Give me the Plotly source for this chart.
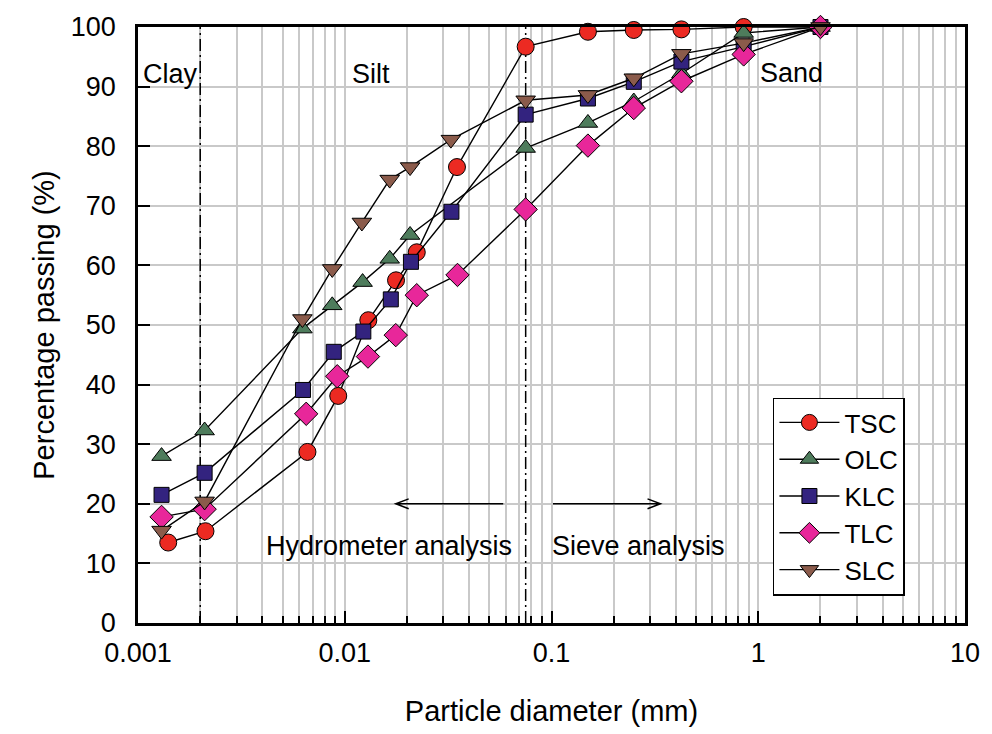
import math
import plotly.graph_objects as go

# ---- data ----
TSC_x = [0.0014, 0.00212, 0.0066, 0.0093, 0.0130, 0.0177, 0.0223, 0.0349, 0.075, 0.15, 0.25, 0.425, 0.85, 2.0]
TSC_y = [13.5, 15.4, 28.7, 38.1, 50.8, 57.5, 62.2, 76.5, 96.7, 99.2, 99.5, 99.6, 100, 100]

OLC_x = [0.0013, 0.0021, 0.00624, 0.0087, 0.0122, 0.0165, 0.0207, 0.075, 0.15, 0.25, 0.425, 0.85, 2.0]
OLC_y = [28.0, 32.3, 49.4, 53.3, 57.2, 61.1, 65.1, 79.7, 83.9, 87.5, 92.2, 99.0, 100]

KLC_x = [0.0013, 0.0021, 0.00628, 0.00885, 0.0123, 0.0167, 0.0209, 0.0328, 0.075, 0.15, 0.25, 0.425, 0.85, 2.0]
KLC_y = [21.5, 25.2, 39.1, 45.5, 48.9, 54.3, 60.6, 69.0, 85.3, 88.0, 90.8, 94.2, 96.7, 100]

TLC_x = [0.0013, 0.0021, 0.00651, 0.0092, 0.01295, 0.01765, 0.0223, 0.0351, 0.075, 0.15, 0.25, 0.425, 0.85, 2.0]
TLC_y = [17.8, 19.1, 35.1, 41.4, 44.7, 48.3, 55.0, 58.4, 69.4, 80.1, 86.4, 90.9, 95.4, 100]

SLC_x = [0.0013, 0.0021, 0.00624, 0.0087, 0.0121, 0.0165, 0.0207, 0.0326, 0.075, 0.15, 0.25, 0.425, 0.85, 2.0]
SLC_y = [15.5, 20.4, 51.0, 59.4, 67.2, 74.4, 76.5, 81.1, 87.7, 88.6, 91.4, 95.5, 97.3, 100]

BOUNDARIES = [0.002, 0.075]          # clay/silt and hydrometer/sieve limits (mm)
X_TICKS = [0.001, 0.01, 0.1, 1, 10]
X_TICK_TEXT = ["0.001", "0.01", "0.1", "1", "10"]
Y_TICKS = [0, 10, 20, 30, 40, 50, 60, 70, 80, 90, 100]

FONT = "Arial, Liberation Sans, sans-serif"

series = [
    ("TSC", TSC_x, TSC_y, "circle", "#ec2a22", 17),
    ("OLC", OLC_x, OLC_y, "triangle-up", "#4e7c5c", 17),
    ("KLC", KLC_x, KLC_y, "square", "#33237f", 15),
    ("TLC", TLC_x, TLC_y, "diamond", "#e8279a", 18),
    ("SLC", SLC_x, SLC_y, "triangle-down", "#8b5b4b", 17),
]

fig = go.Figure()

for b in BOUNDARIES:
    fig.add_trace(go.Scatter(x=[b, b], y=[0, 100], mode="lines",
                             line=dict(color="black", width=1.5, dash="12px,4px,2px,4px"),
                             showlegend=False, hoverinfo="skip", cliponaxis=True))

for name, xs, ys, sym, col, sz in series:
    fig.add_trace(go.Scatter(
        x=xs, y=ys, name=name, mode="lines+markers", legendgroup=name,
        line=dict(color="black", width=1.4),
        marker=dict(symbol=sym, size=sz, color=col, line=dict(color="black", width=1)),
        cliponaxis=False,
    ))

# plot-area geometry in pixels (for paper coordinate conversion of annotations)
L, R, T, B = 138, 969, 23, 623
def px(x):
    return (x - L) / (R - L)
def py(y):
    return (B - y) / (B - T)

ann_font = dict(family=FONT, size=27, color="black")
annotations = [
    dict(text="Clay", x=px(141), y=py(70), xanchor="left", yanchor="middle"),
    dict(text="Silt", x=px(372), y=py(70), xanchor="center", yanchor="middle"),
    dict(text="Sand", x=px(795), y=py(69), xanchor="center", yanchor="middle"),
    dict(text="Hydrometer analysis", x=px(390), y=py(545), xanchor="center", yanchor="middle"),
    dict(text="Sieve analysis", x=px(641), y=py(545), xanchor="center", yanchor="middle"),
]
for a in annotations:
    a.update(xref="paper", yref="paper", showarrow=False, font=ann_font)

# arrows
dx, dy = 13 / (R - L), 5 / (B - T)
ya = py(503)
xl0, xl1 = px(505), px(397)
xr0, xr1 = px(555), px(663)
shapes = [
    dict(type="path", xref="paper", yref="paper",
         path=f"M {xl0},{ya} L {xl1},{ya} M {xl1+dx},{ya+dy} L {xl1},{ya} L {xl1+dx},{ya-dy}",
         line=dict(color="black", width=1.5)),
    dict(type="path", xref="paper", yref="paper",
         path=f"M {xr0},{ya} L {xr1},{ya} M {xr1-dx},{ya+dy} L {xr1},{ya} L {xr1-dx},{ya-dy}",
         line=dict(color="black", width=1.5)),
]

grid = "#c9c9c9"
fig.update_layout(
    width=992, height=734,
    margin=dict(l=L, r=992 - R, t=T, b=734 - B),
    paper_bgcolor="white", plot_bgcolor="white",
    font=dict(family=FONT, size=27, color="black"),
    annotations=annotations, shapes=shapes,
    showlegend=True,
    legend=dict(x=px(776), y=py(396), xanchor="left", yanchor="top",
                bgcolor="white", bordercolor="black", borderwidth=1.5,
                font=dict(family=FONT, size=26, color="black"),
                tracegroupgap=0, itemwidth=60),
    xaxis=dict(type="log", range=[-3, 1], tickvals=X_TICKS, ticktext=X_TICK_TEXT,
               ticks="inside", ticklen=12, tickwidth=2, tickcolor="black",
               showline=True, linecolor="black", linewidth=2.5, mirror=True,
               showgrid=True, gridcolor=grid, gridwidth=1.5,
               minor=dict(dtick="D1", ticks="inside", ticklen=7, tickwidth=1.5,
                          tickcolor="black", showgrid=True, gridcolor=grid, gridwidth=1.5),
               tickfont=dict(size=27), ticklabelstandoff=4,
               title=dict(text="Particle diameter (mm)", font=dict(size=29), standoff=34),
               zeroline=False),
    yaxis=dict(range=[0, 100], tickvals=Y_TICKS,
               ticks="inside", ticklen=12, tickwidth=2, tickcolor="black",
               showline=True, linecolor="black", linewidth=2.5, mirror=True,
               showgrid=True, gridcolor=grid, gridwidth=1.5,
               tickfont=dict(size=27), ticklabelstandoff=14,
               title=dict(text="Percentage passing (%)", font=dict(size=29), standoff=8),
               zeroline=False),
)

fig.write_html("out.html")
